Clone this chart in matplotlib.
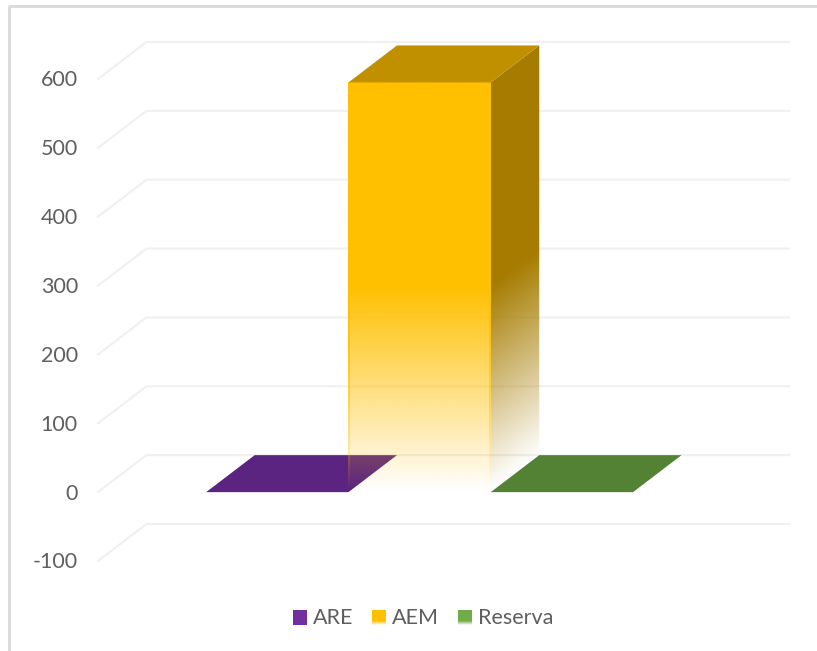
import numpy as np
import matplotlib
matplotlib.use("Agg")
import matplotlib.pyplot as plt
from matplotlib.patches import Polygon, Rectangle
from matplotlib.lines import Line2D
from matplotlib.legend_handler import HandlerBase
from matplotlib.colors import to_rgb
from matplotlib.transforms import ScaledTranslation

# --- data -------------------------------------------------------------
categories = ["ARE", "AEM", "Reserva"]
values = [0, 595, 0]
y_ticks = [-100, 0, 100, 200, 300, 400, 500, 600]
y_tick_labels = ["-100", "0", "100", "200", "300", "400", "500", "600"]

# --- style ------------------------------------------------------------
front_colors = ["#7030A0", "#FFC000", "#70AD47"]
top_colors = ["#5A2480", "#C09000", "#548235"]
side_colors = ["#4A1E6B", "#A67C00", "#44702E"]
text_color = "#5F5F5F"
grid_color = "#F0F0F0"
frame_color = "#D9D9D9"
W, H = 817, 651

plt.rcParams["font.family"] = ["Lato", "DejaVu Sans"]
fig = plt.figure(figsize=(W / 100, H / 100), dpi=100, facecolor="white")

# front plane of the 3-D box, in pixels
px_left, px_right, px_top, px_bottom = 98, 740.5, 79, 561
ax = fig.add_axes([px_left / W, 1 - px_bottom / H,
                   (px_right - px_left) / W, (px_bottom - px_top) / H])
px_per_cat = 142.3
px_center = 419.6
xlim = (1 - (px_center - px_left) / px_per_cat,
        1 + (px_right - px_center) / px_per_cat)
ylim = (-100, 600)
px_per_val = (px_bottom - px_top) / 700
depth_x = 48.5 / px_per_cat
depth_y = 37 / px_per_val

# gridlines: floor diagonal + back wall
for v in y_ticks:
    ax.plot([xlim[0], xlim[0] + depth_x, xlim[1] + depth_x],
            [v, v + depth_y, v + depth_y],
            color=grid_color, lw=1.5, clip_on=False, zorder=1,
            solid_joinstyle="miter")


def fade_image(ax, poly_xy, rgb, x_edge, max_value, zorder, skew):
    """Draw a polygon filled with a vertical fade to transparent."""
    poly_xy = np.asarray(poly_xy)
    x0, x1 = poly_xy[:, 0].min(), poly_xy[:, 0].max()
    y0, y1 = poly_xy[:, 1].min(), poly_xy[:, 1].max()
    xs = np.linspace(x0, x1, 120)
    ys = np.linspace(y0, y1, 600)
    gx, gy = np.meshgrid(xs, ys)
    equiv = gy - skew * (gx - x_edge) * depth_y / depth_x
    alpha = np.clip(equiv / (0.5 * max_value), 0, 1)
    img = np.zeros(gx.shape + (4,))
    img[..., :3] = rgb
    img[..., 3] = alpha
    im = ax.imshow(img, origin="lower", extent=(x0, x1, y0, y1),
                   aspect="auto", interpolation="bilinear", zorder=zorder)
    patch = Polygon(poly_xy, closed=True, transform=ax.transData,
                    facecolor="none", edgecolor="none")
    ax.add_patch(patch)
    patch.set_clip_on(False)
    im.set_clip_box(fig.bbox)
    im.set_clip_path(patch)


edge_w = 1.5 / px_per_cat
for i, (cat, val) in enumerate(zip(categories, values)):
    xl, xr = i - 0.5, i + 0.5
    z = 2 + i
    if val > 0:
        side = [(xr, 0), (xr + depth_x, depth_y),
                (xr + depth_x, val + depth_y), (xr, val)]
        fade_image(ax, side, to_rgb(side_colors[i]), xr, val, z, 1)
        front = [(xl, 0), (xr, 0), (xr, val), (xl, val)]
        fade_image(ax, front, to_rgb(front_colors[i]), xr, val, z + 0.1, 0)
        for ex in (xl, xr - edge_w):
            strip = [(ex, 0), (ex + edge_w, 0), (ex + edge_w, val), (ex, val)]
            fade_image(ax, strip, to_rgb(front_colors[i]), xr, val, z + 0.15, 0)
    top = [(xl, val), (xr, val), (xr + depth_x, val + depth_y),
           (xl + depth_x, val + depth_y)]
    ax.add_patch(Polygon(top, closed=True, facecolor=top_colors[i],
                         edgecolor="none", clip_on=False, zorder=z + 0.2))

ax.set_xlim(*xlim)
ax.set_ylim(*ylim)
ax.set_xticks([])
ax.set_yticks(y_ticks)
ax.set_yticklabels(y_tick_labels, fontsize=15.5, color=text_color)
ax.tick_params(axis="y", length=0, pad=14.5)
up = ScaledTranslation(0, 0.5 / 100, fig.dpi_scale_trans)
for lab in ax.get_yticklabels():
    lab.set_transform(lab.get_transform() + up)
for s in ax.spines.values():
    s.set_visible(False)
ax.patch.set_alpha(0)


# --- legend with fading swatches --------------------------------------
class FadeHandler(HandlerBase):
    def __init__(self, color, fade):
        super().__init__()
        self.color = color
        self.fade = fade

    def create_artists(self, legend, orig, xd, yd, w, h, fs, trans):
        n = 14
        out = []
        for k in range(n):
            frac = (k + 0.5) / n
            a = min(1.0, frac / 0.3) if self.fade else 1.0
            out.append(Rectangle((-xd, -yd + h * k / n - 1), w, h / n + 0.2,
                                 facecolor=self.color, edgecolor="none",
                                 alpha=a, transform=trans))
        return out


handles = [Rectangle((0, 0), 1, 1, label=c) for c in categories]
handler_map = {handles[0]: FadeHandler(front_colors[0], False),
               handles[1]: FadeHandler(front_colors[1], True),
               handles[2]: FadeHandler(front_colors[2], True)}
fig.legend(handles=handles, labels=categories, handler_map=handler_map,
           ncol=3, frameon=False, fontsize=15.5, labelcolor=text_color,
           loc="center", bbox_to_anchor=(423 / W, 1 - 618 / H),
           handlelength=0.65, handleheight=0.65, handletextpad=0.27,
           columnspacing=0.88, borderpad=0, borderaxespad=0)

# --- outer frame ------------------------------------------------------
fig.add_artist(Line2D([9 / W, 9 / W], [0.5 / H, 1 - 5.5 / H],
                      color=frame_color, lw=2, transform=fig.transFigure,
                      solid_capstyle="butt"))
fig.add_artist(Line2D([8 / W, 1], [1 - 6 / H, 1 - 6 / H],
                      color=frame_color, lw=2, transform=fig.transFigure,
                      solid_capstyle="butt"))

fig.savefig("out.png", dpi=100, facecolor="white")
